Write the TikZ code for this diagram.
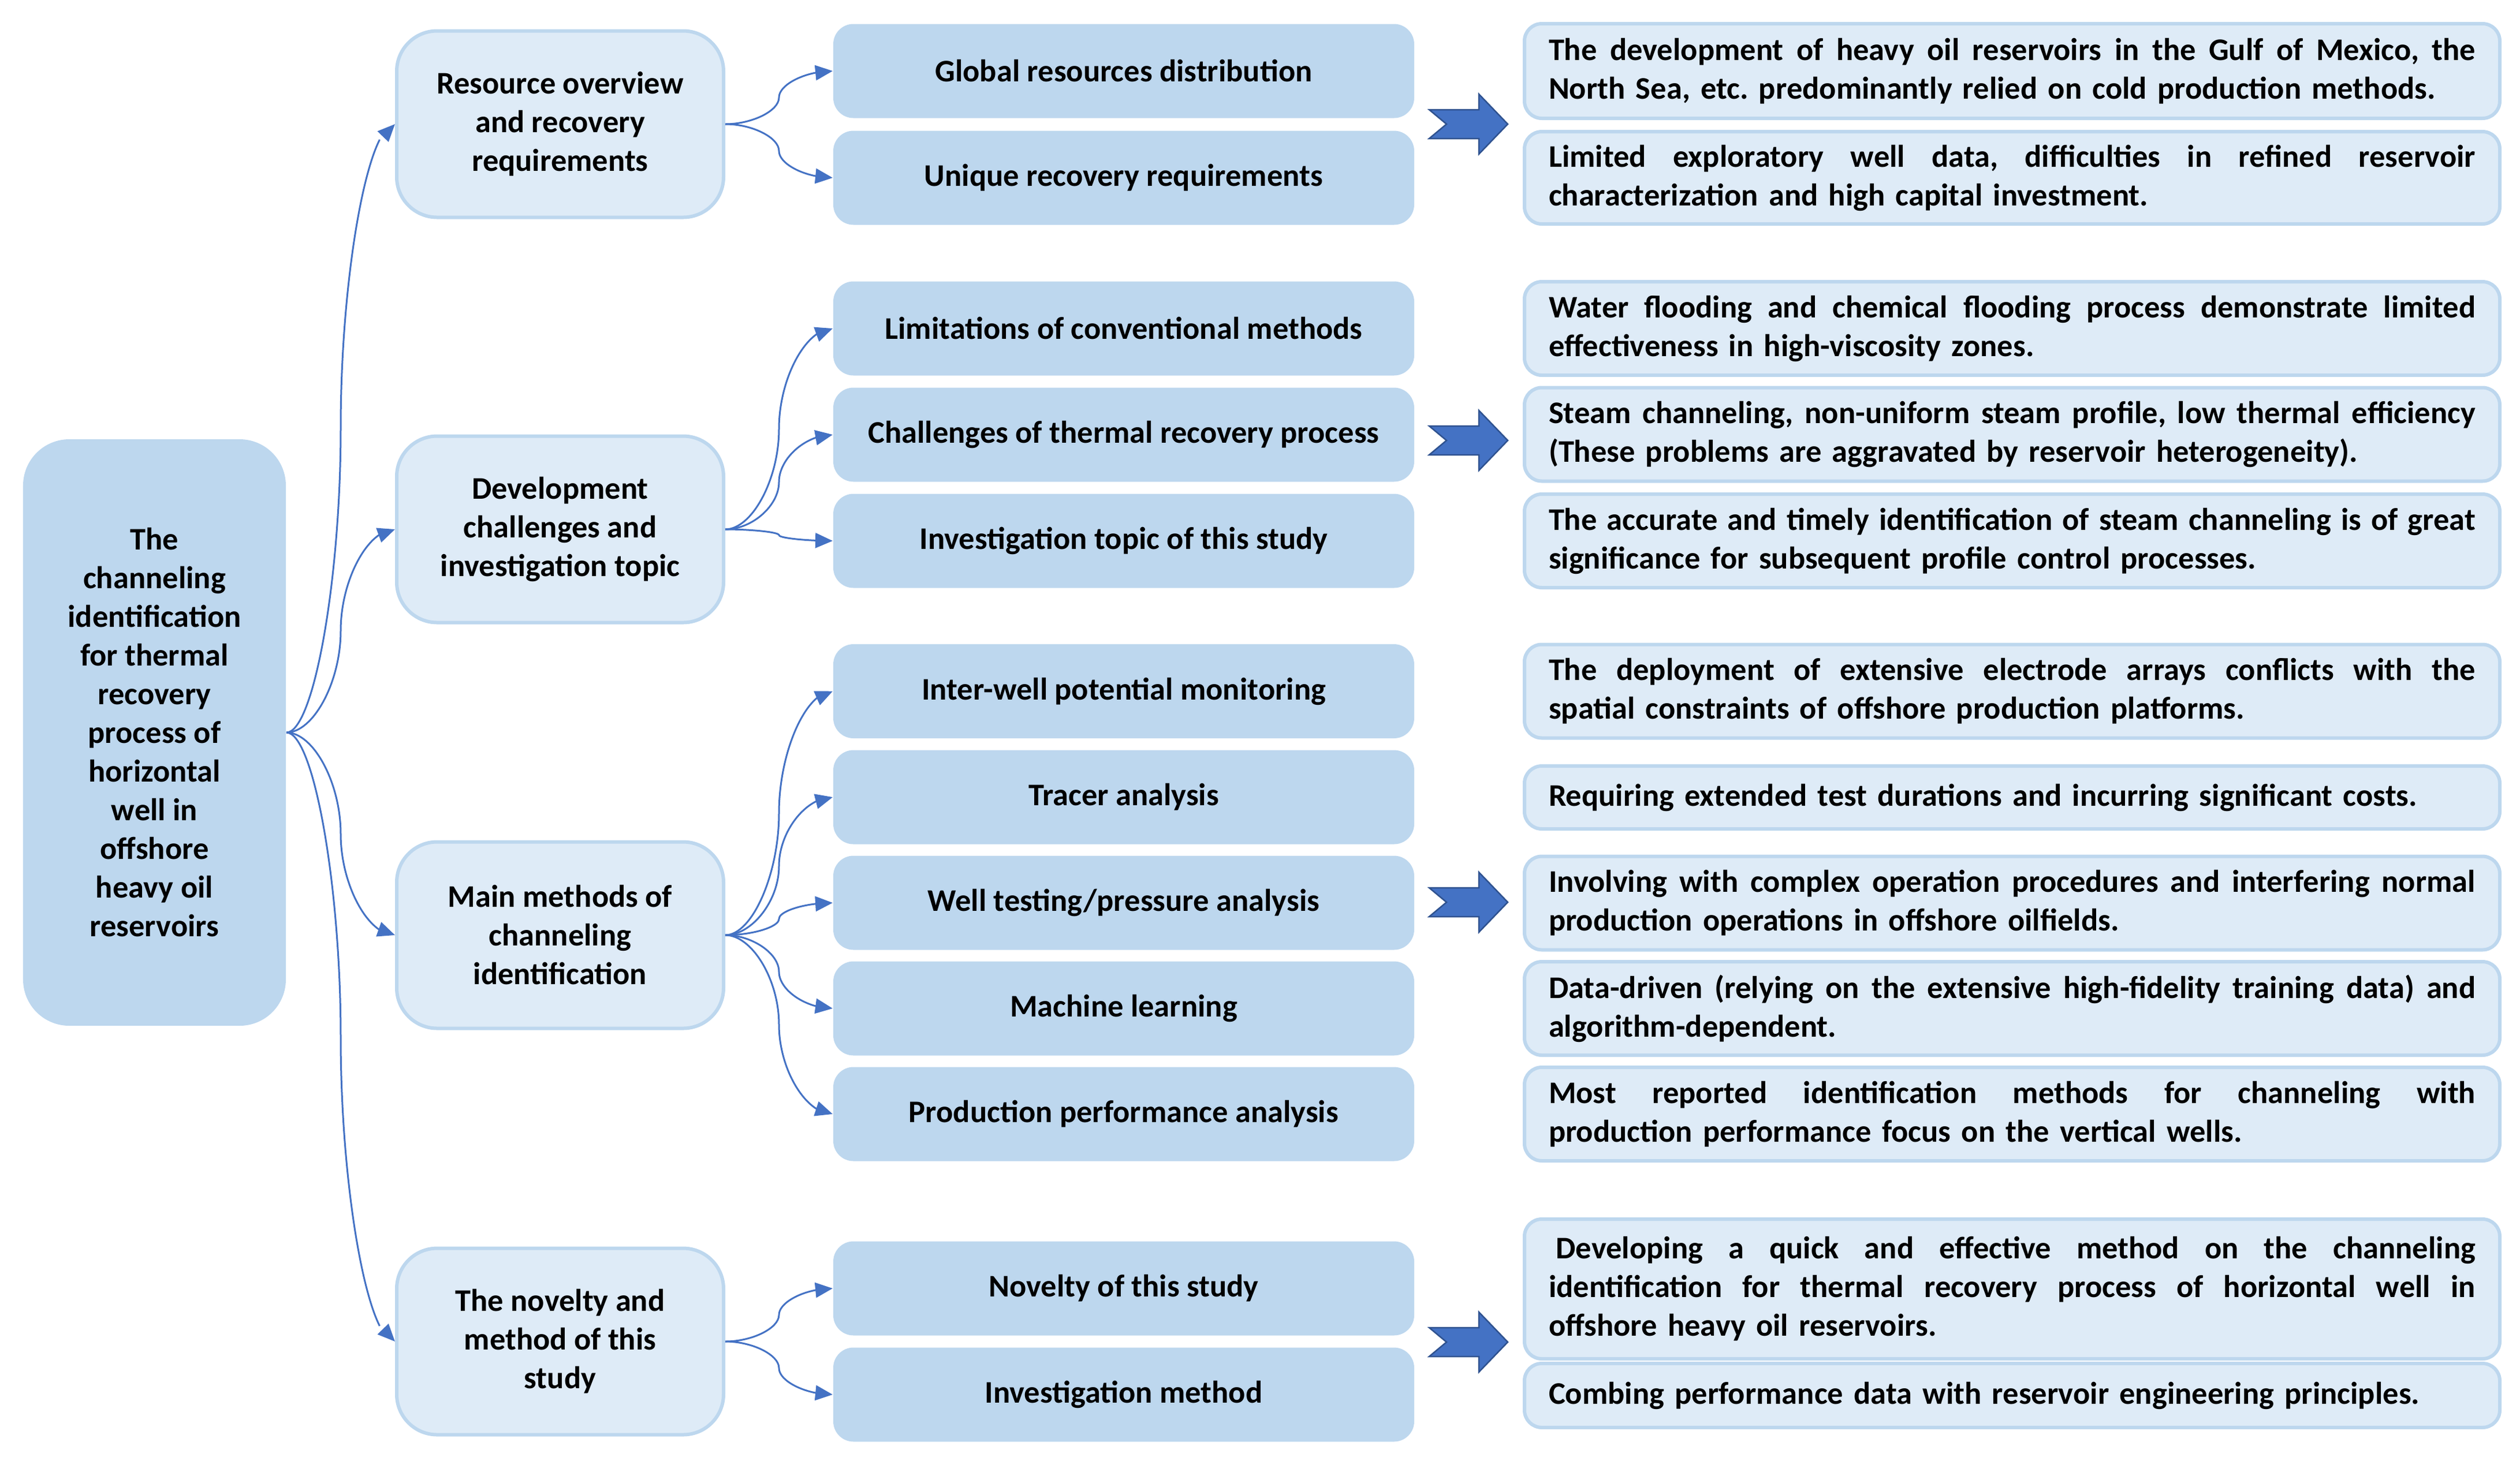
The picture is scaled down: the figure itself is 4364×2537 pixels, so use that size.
\documentclass[tikz,border=0pt]{standalone}
\usepackage{fontspec}
\setmainfont{Carlito}
\usetikzlibrary{arrows.meta,bending,calc}
\definecolor{lightfill}{HTML}{DEEBF7}
\definecolor{midfill}{HTML}{BDD7EE}
\definecolor{linkblue}{HTML}{4472C4}
\definecolor{chevedge}{HTML}{2F528F}
\frenchspacing
\newcommand\jline[1]{\leavevmode\hbox to 321pt{\spaceskip=\fontdimen2\font plus 1fil minus \fontdimen4\font\relax\xspaceskip=\spaceskip #1}}
\begin{document}
\begin{tikzpicture}[x=0.2pt,y=-0.2pt,
  font=\fontsize{10.9pt}{13.4pt}\selectfont\bfseries\frenchspacing,
  mainbox/.style={fill=midfill, rounded corners=16pt, minimum width=91pt, minimum height=203.2pt, inner sep=0pt, align=center},
  topicbox/.style={fill=lightfill, draw=midfill, line width=1.2pt, rounded corners=14pt, minimum width=113.2pt, minimum height=64.6pt, inner sep=0pt, align=center},
  itembox/.style={fill=midfill, rounded corners=7pt, minimum width=201.2pt, minimum height=32.6pt, inner sep=0pt},
  notebox/.style={fill=lightfill, draw=midfill, line width=1.2pt, rounded corners=6pt, text width=321pt, inner xsep=8.4pt, inner ysep=0pt, minimum height=32.4pt, align=left},
  chevron/.style={fill=linkblue, draw=chevedge, line width=0.5pt, line join=miter},
  conn/.style={draw=linkblue, line width=0.6pt, -{Triangle[length=6pt,width=5.2pt,flex]},
    to path={let \p1=(\tikztostart), \p2=(\tikztotarget) in
      .. controls ({0.75*\x1+0.25*\x2},\y1) and ({0.5*\x1+0.5*\x2},{0.75*\y1+0.25*\y2})
      .. ({0.5*\x1+0.5*\x2},{0.5*\y1+0.5*\y2})
      .. controls ({0.5*\x1+0.5*\x2},{0.25*\y1+0.75*\y2}) and ({0.25*\x1+0.75*\x2},\y2)
      .. (\tikztotarget)}}
]
\useasboundingbox (0,0) rectangle (4364,2537);

% root
\node[mainbox] (main) at (267.5,1269) {The\\channeling\\identification\\for thermal\\recovery\\process of\\horizontal\\well in\\offshore\\heavy oil\\reservoirs};

% topics
\node[topicbox] (t1) at (970,215) {Resource overview\\and recovery\\requirements};
\node[topicbox] (t2) at (970,917) {Development\\challenges and\\investigation topic};
\node[topicbox] (t3) at (970,1620) {Main methods of\\channeling\\identification};
\node[topicbox] (t4) at (970,2324) {The novelty and\\method of this\\study};

% items
\node[itembox] (i11) at (1946,123) {Global resources distribution};
\node[itembox] (i12) at (1946,308) {Unique recovery requirements};
\node[itembox] (i21) at (1946,569) {Limitations of conventional methods};
\node[itembox] (i22) at (1946,753) {Challenges of thermal recovery process};
\node[itembox] (i23) at (1946,937) {Investigation topic of this study};
\node[itembox] (i31) at (1946,1197.5) {Inter-well potential monitoring};
\node[itembox] (i32) at (1946,1381) {Tracer analysis};
\node[itembox] (i33) at (1946,1564) {Well testing/pressure analysis};
\node[itembox] (i34) at (1946,1747) {Machine learning};
\node[itembox] (i35) at (1946,1930) {Production performance analysis};
\node[itembox] (i41) at (1946,2232) {Novelty of this study};
\node[itembox] (i42) at (1946,2416) {Investigation method};

% notes
\node[notebox, minimum height=32.8pt] (n11) at (3484.5,123) {\jline{The development of heavy oil reservoirs in the Gulf of Mexico, the}\\North Sea, etc. predominantly relied on cold production methods.};
\node[notebox, minimum height=32pt] (n12) at (3484.5,308) {\jline{Limited exploratory well data, difficulties in refined reservoir}\\characterization and high capital investment.};
\node[notebox] (n21) at (3484.5,569) {\jline{Water flooding and chemical flooding process demonstrate limited}\\effectiveness in high-viscosity zones.};
\node[notebox] (n22) at (3484.5,752.5) {\jline{Steam channeling, non-uniform steam profile, low thermal efficiency}\\(These problems are aggravated by reservoir heterogeneity).};
\node[notebox] (n23) at (3484.5,937) {\jline{The accurate and timely identification of steam channeling is of great}\\significance for subsequent profile control processes.};
\node[notebox] (n31) at (3484.5,1197.5) {\jline{The deployment of extensive electrode arrays conflicts with the}\\spatial constraints of offshore production platforms.};
\node[notebox, minimum height=21.8pt] (n32) at (3484.5,1381.5) {Requiring extended test durations and incurring significant costs.};
\node[notebox] (n33) at (3484.5,1564.5) {\jline{Involving with complex operation procedures and interfering normal}\\production operations in offshore oilfields.};
\node[notebox] (n34) at (3484.5,1747) {\jline{Data-driven (relying on the extensive high-fidelity training data) and}\\algorithm-dependent.};
\node[notebox] (n35) at (3484.5,1930) {\jline{Most reported identification methods for channeling with}\\production performance focus on the vertical wells.};
\node[notebox, minimum height=48.4pt] (n41) at (3484.5,2233) {\jline{\hspace*{2.5pt}Developing a quick and effective method on the channeling}\\\jline{identification for thermal recovery process of horizontal well in}\\offshore heavy oil reservoirs.};
\node[notebox, minimum height=22.2pt] (n42) at (3484.5,2417.5) {Combing performance data with reservoir engineering principles.};

% chevrons
\foreach \cy in {215,763,1563,2325}{
  \draw[chevron, shift={(2475,\cy)}] (0,-25) -- (86,-25) -- (86,-52) -- (136,0) -- (86,52) -- (86,25) -- (0,25) -- (30,0) -- cycle;
}

% connectors
\foreach \t in {t1,t2,t3,t4}{\draw[conn] (main.east) to (\t.west);}
\foreach \i in {i11,i12}{\draw[conn] (t1.east) to (\i.west);}
\foreach \i in {i21,i22,i23}{\draw[conn] (t2.east) to (\i.west);}
\foreach \i in {i31,i32,i33,i34,i35}{\draw[conn] (t3.east) to (\i.west);}
\foreach \i in {i41,i42}{\draw[conn] (t4.east) to (\i.west);}
\end{tikzpicture}
\end{document}
